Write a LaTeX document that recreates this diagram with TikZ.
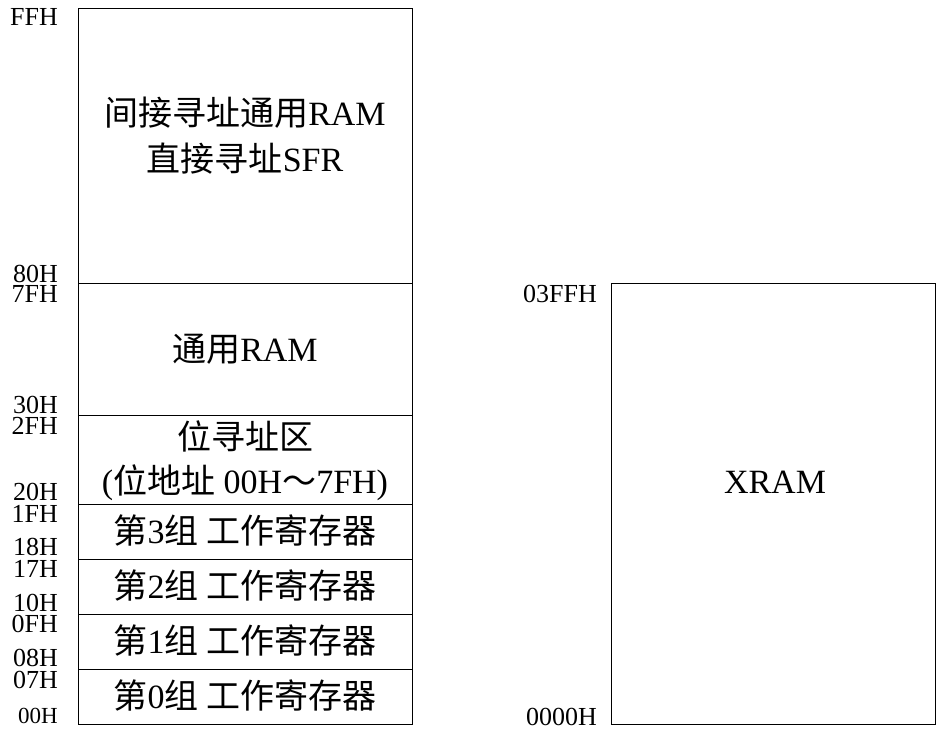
\documentclass[tikz,border=0pt]{standalone}
\usepackage{fontspec}
\setmainfont{Liberation Serif}
\newfontfamily\cjk{Noto Sans CJK SC}
\tikzset{addr/.style={anchor=base east,inner sep=0pt,text height=17pt,text depth=0pt,font=\fontsize{26}{26}\selectfont},
  txt/.style={anchor=base,inner sep=0pt,font=\fontsize{34}{34}\selectfont}}
\begin{document}
\begin{tikzpicture}[x=1pt,y=-1pt]
    \useasboundingbox (0,0) rectangle (936,729);
    \draw[line width=0.8pt] (78,8) rectangle (412,724);
    \foreach \y in {283,415,504,559,614,669}
    \draw[line width=0.8pt] (78,\y) -- (412,\y);
    \foreach \y/\t in {25/FFH,282/80H,302/7FH,413/30H,434/2FH,500/20H,522/1FH,555/18H,577/17H,611/10H,632/0FH,666/08H,688/07H}
    \node[addr] (l\t) at (58,\y) {\t};
    \node[addr,text height=15pt,font=\fontsize{23}{23}\selectfont] (l00H) at (58,723) {00H};
    \node[txt] (ind) at (245,125) {{\cjk 间接寻址通用}RAM};
    \node[txt] (sfr) at (245,171) {{\cjk 直接寻址}SFR};
    \node[txt] (gram) at (245,361) {{\cjk 通用}RAM};
    \node[txt] (bit) at (245,449) {\cjk 位寻址区};
    \node[txt] (bitaddr) at (245,493) {({\cjk 位地址} 00H{\cjk ～}7FH)};
    \foreach \n/\y in {3/543,2/598,1/653,0/708}
    \node[txt] (bank\n) at (245,\y) {{\cjk 第}\n{\cjk 组 工作寄存器}};
    \draw[line width=0.8pt] (611,283) rectangle (935.5,724);
    \node[addr] (r03FFH) at (597,302) {03FFH};
    \node[addr] (r0000H) at (597,725) {0000H};
    \node[txt] (xram) at (775,493) {XRAM};
\end{tikzpicture}
\end{document}
